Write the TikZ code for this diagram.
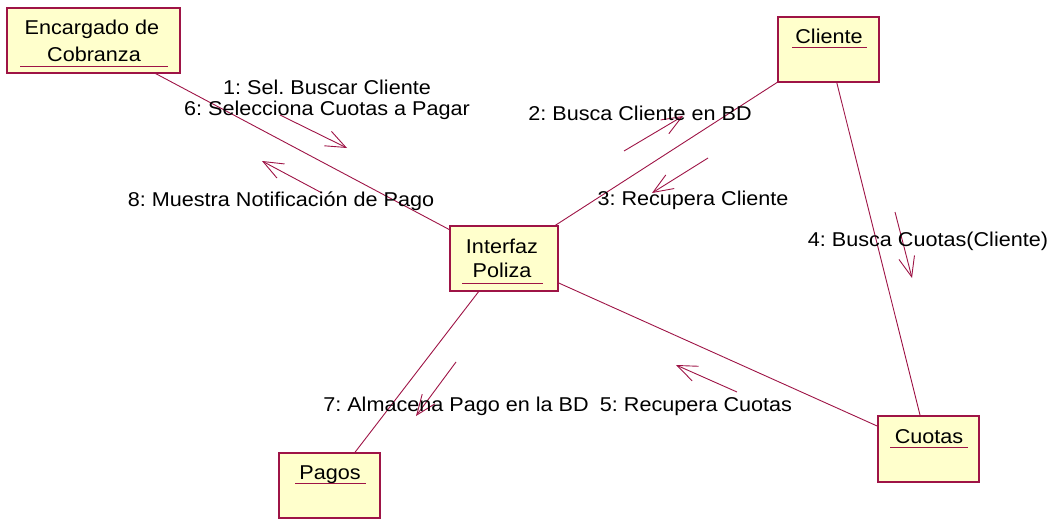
\documentclass[tikz,border=0pt]{standalone}
\usepackage{fontspec}
\setmainfont{Liberation Sans}[FakeStretch=1.08]
\usetikzlibrary{arrows.meta}
\definecolor{rose}{RGB}{158,20,70}
\definecolor{boxfill}{RGB}{255,255,204}
\frenchspacing
\begin{document}
\begin{tikzpicture}[x=1pt,y=-1pt,
  obj/.style={draw=rose, fill=boxfill, line width=1.2pt, rectangle, inner sep=0pt},
  link/.style={draw=rose, line width=0.9pt},
  msg/.style={draw=rose, line width=0.9pt, -{Straight Barb[length=20pt,width=16pt]}},
  lbl/.style={font=\fontsize{20}{21}\selectfont, anchor=base, inner sep=0pt},
  uline/.style={draw=rose, line width=1pt}]
\useasboundingbox (0,0) rectangle (1056,519);

% objects
\node[obj, minimum width=173pt, minimum height=65pt] (enc) at (93.5,40.5) {};
\node[obj, minimum width=108pt, minimum height=65pt] (int) at (504,258.5) {};
\node[obj, minimum width=101pt, minimum height=65pt] (cli) at (828.5,49.5) {};
\node[obj, minimum width=101pt, minimum height=66pt] (cuo) at (928.5,449) {};
\node[obj, minimum width=101pt, minimum height=65pt] (pag) at (329.5,485.5) {};

% object names
\node[lbl] (encT1) at (92,35) {Encargado de};
\node[lbl] (encT2) at (94,61) {Cobranza};
\node[lbl] (intT1) at (502,253) {Interfaz};
\node[lbl] (intT2) at (502,277) {Poliza};
\node[lbl] (cliT) at (829,44) {Cliente};
\node[lbl] (cuoT) at (929,443) {Cuotas};
\node[lbl] (pagT) at (330,479) {Pagos};

% underlines
\draw[uline] (20,66) -- (168,66);
\draw[uline] (462,283) -- (543,283);
\draw[uline] (792,48) -- (867,48);
\draw[uline] (890,447) -- (968,447);
\draw[uline] (295,483) -- (366,483);

% links
\draw[link] (enc) -- (int);
\draw[link] (int) -- (cli);
\draw[link] (cli) -- (cuo);
\draw[link] (int) -- (cuo);
\draw[link] (int) -- (pag);

% message arrows
\coordinate (m1a) at (280,115); \coordinate (m1b) at (347,148);
\coordinate (m8a) at (322,193); \coordinate (m8b) at (262,161);
\coordinate (m2a) at (624,151); \coordinate (m2b) at (683,116);
\coordinate (m3a) at (708,158); \coordinate (m3b) at (652,193);
\coordinate (m4a) at (895,212); \coordinate (m4b) at (912,278);
\coordinate (m5a) at (737,392); \coordinate (m5b) at (676,365);
\coordinate (m7a) at (456,362); \coordinate (m7b) at (416,416);
\draw[msg] (m1a) -- (m1b);
\draw[msg] (m8a) -- (m8b);
\draw[msg] (m2a) -- (m2b);
\draw[msg] (m3a) -- (m3b);
\draw[msg] (m4a) -- (m4b);
\draw[msg] (m5a) -- (m5b);
\draw[msg] (m7a) -- (m7b);

% message labels
\node[lbl] (l1) at (327,94) {1: Sel. Buscar Cliente};
\node[lbl] (l6) at (327,115) {6: Selecciona Cuotas a Pagar};
\node[lbl] (l8) at (281,206) {8: Muestra Notificación de Pago};
\node[lbl] (l2) at (640,120) {2: Busca Cliente en BD};
\node[lbl] (l3) at (693,205) {3: Recupera Cliente};
\node[lbl] (l4) at (928,246) {4: Busca Cuotas(Cliente)};
\node[lbl] (l5) at (696,411) {5: Recupera Cuotas};
\node[lbl] (l7) at (456,411) {7: Almacena Pago en la BD};
\end{tikzpicture}
\end{document}
